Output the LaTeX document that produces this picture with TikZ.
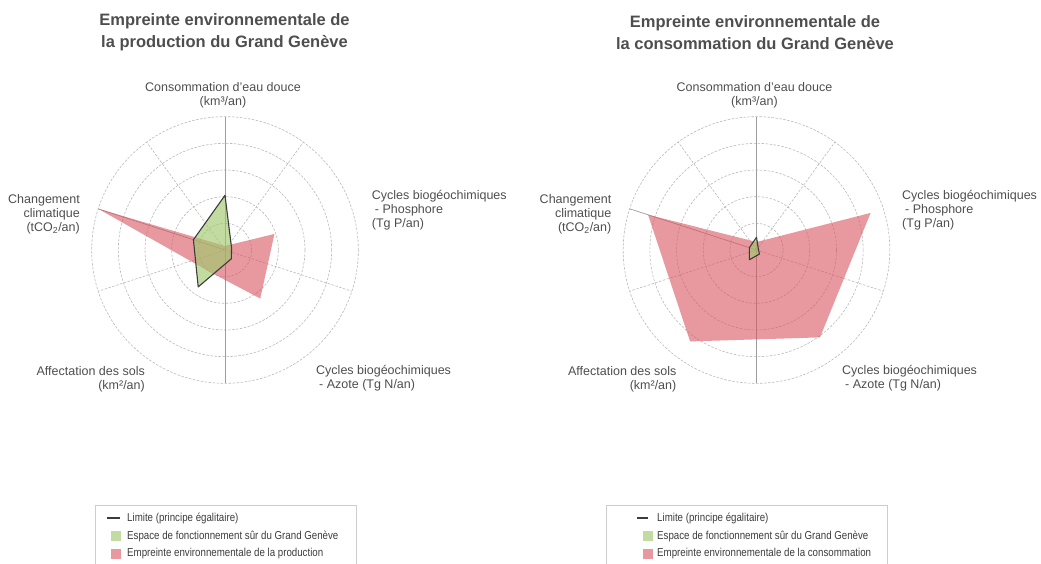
\documentclass[tikz,border=0pt]{standalone}
\usepackage{fontspec}
\setmainfont{Liberation Sans}
\newfontfamily\legfont[FakeStretch=0.845]{Liberation Sans}
\definecolor{txt}{RGB}{78,78,78}
\definecolor{legtxt}{RGB}{60,60,60}
\definecolor{gridc}{RGB}{185,185,185}
\definecolor{redf}{RGB}{215,85,95}
\definecolor{greenf}{RGB}{160,200,110}
\definecolor{limc}{RGB}{60,60,60}
\definecolor{boxc}{RGB}{205,205,205}
\tikzset{
  ring/.style={draw=gridc, dash pattern=on 2.5pt off 1.5pt, line width=0.6pt},
  spokedash/.style={draw=gridc, dash pattern=on 2.5pt off 1.5pt, line width=0.6pt},
  spokesolid/.style={draw=gridc!85!black, line width=0.7pt},
  redpoly/.style={fill=redf, fill opacity=0.6},
  greenpoly/.style={fill=greenf, fill opacity=0.65},
  limitline/.style={draw=limc, line width=1.1pt, line join=round},
  axlab/.style={font=\fontsize{12.5}{14}\selectfont, text=txt, inner sep=0pt},
  ttl/.style={font=\fontsize{16.5}{21.6}\selectfont\bfseries, text=txt, align=center, inner sep=0pt},
  leg/.style={font=\legfont\fontsize{11.5}{13}\selectfont, text=legtxt, anchor=west, inner sep=0pt},
  legbox/.style={draw=boxc, line width=0.8pt},
  grid/.pic={
    \foreach \r in {26.67,53.33,80,106.67,133.33} \draw[ring] (0,0) circle[radius=\r pt];
    \foreach \a in {54,126,-18,-162} \draw[spokedash] (0,0) -- (\a:133.33pt);
    \foreach \a in {90,-90,162} \draw[spokesolid] (0,0) -- (\a:133.33pt);
  }
}
\begin{document}
\begin{tikzpicture}[x=1pt,y=-1pt]
\useasboundingbox (0,0) rectangle (1041,563);

% ---------- titles
\node[ttl] (t1) at (224.5,32.5) {Empreinte environnementale de\\la production du Grand Genève};
\node[ttl] (t2) at (755,32.5) {Empreinte environnementale de\\la consommation du Grand Genève};

% ---------- left chart
\begin{scope}[shift={(225,250)}]
  \pic {grid};
  \fill[redpoly] (90:4pt) -- (18:52pt) -- (-54:60pt) -- (-126:26.7pt) -- (162:133.3pt) -- cycle;
  \fill[greenpoly] (90:54.7pt) -- (18:6.9pt) -- (-54:10.8pt) -- (-126:45.6pt) -- (162:33.2pt) -- cycle;
  \draw[limitline] (90:54.7pt) -- (18:6.9pt) -- (-54:10.8pt) -- (-126:45.6pt) -- (162:33.2pt) -- cycle;
\end{scope}
\node[axlab, align=center] (l1) at (223,95) {Consommation d'eau douce\\(km³/an)};
\node[axlab, align=left, anchor=west] (l2) at (371.7,210) {Cycles biogéochimiques\\\hspace*{3pt}- Phosphore\\(Tg P/an)};
\node[axlab, align=left, anchor=west] (l3) at (316,378.5) {Cycles biogéochimiques\\\hspace*{3pt}- Azote (Tg N/an)};
\node[axlab, align=right, anchor=east] (l4) at (145,379.5) {Affectation des sols\\(km²/an)};
\node[axlab, align=right, anchor=east] (l5) at (80,214) {Changement\\climatique\\(tCO\textsubscript{2}/an)};

% ---------- right chart
\begin{scope}[shift={(756.5,250)}]
  \pic {grid};
  \fill[redpoly] (90:8pt) -- (18:120pt) -- (-54:108pt) -- (-126:113pt) -- (162:114pt) -- cycle;
  \fill[greenpoly] (90:12.7pt) -- (18:2pt) -- (-54:5pt) -- (-126:12pt) -- (162:7.5pt) -- cycle;
  \draw[limitline] (90:12.7pt) -- (18:2pt) -- (-54:5pt) -- (-126:12pt) -- (162:7.5pt) -- cycle;
\end{scope}
\node[axlab, align=center] (r1) at (754.5,95) {Consommation d'eau douce\\(km³/an)};
\node[axlab, align=left, anchor=west] (r2) at (902,210) {Cycles biogéochimiques\\\hspace*{3pt}- Phosphore\\(Tg P/an)};
\node[axlab, align=left, anchor=west] (r3) at (842,378.5) {Cycles biogéochimiques\\\hspace*{3pt}- Azote (Tg N/an)};
\node[axlab, align=right, anchor=east] (r4) at (676.5,379.5) {Affectation des sols\\(km²/an)};
\node[axlab, align=right, anchor=east] (r5) at (611.5,214) {Changement\\climatique\\(tCO\textsubscript{2}/an)};

% ---------- left legend
\draw[legbox] (95,564) -- (95,505) -- (356.7,505) -- (356.7,564);
\coordinate (la) at (107,518);
\coordinate (lb) at (120,518);
\draw[limitline, line width=1.2pt] (la) -- (lb);
\fill[greenpoly] (111,531) rectangle (121,541);
\fill[redpoly] (111,549) rectangle (121,559);
\node[leg] (lg1) at (127,518) {Limite (principe égalitaire)};
\node[leg] (lg2) at (127,536) {Espace de fonctionnement sûr du Grand Genève};
\node[leg] (lg3) at (127,554) {Empreinte environnementale de la production};

% ---------- right legend
\draw[legbox] (606,564) -- (606,505) -- (887,505) -- (887,564);
\coordinate (ra) at (637,518);
\coordinate (rb) at (648,518);
\draw[limitline, line width=1.2pt] (ra) -- (rb);
\fill[greenpoly] (643,531) rectangle (653,541);
\fill[redpoly] (643,549) rectangle (653,559);
\node[leg] (rg1) at (657,518) {Limite (principe égalitaire)};
\node[leg] (rg2) at (657,536) {Espace de fonctionnement sûr du Grand Genève};
\node[leg] (rg3) at (657,554) {Empreinte environnementale de la consommation};
\end{tikzpicture}
\end{document}
